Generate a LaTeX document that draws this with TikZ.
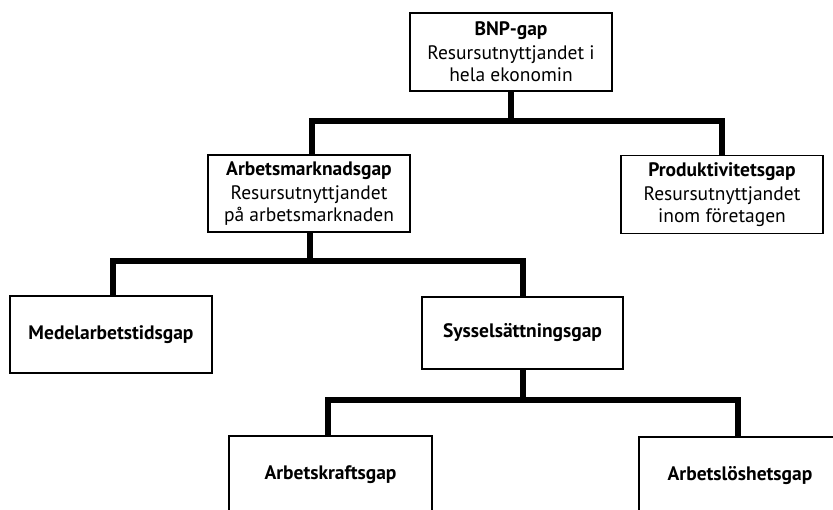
\documentclass[tikz,border=0pt]{standalone}
\usepackage{fontspec}
\setmainfont{PT Sans}
\begin{document}
\begin{tikzpicture}[x=1pt,y=-1pt,
  box/.style={draw=black, line width=1.2pt, fill=white,
    minimum width=202pt, minimum height=78pt, inner sep=0pt,
    align=center, font=\fontsize{19.5}{22}\selectfont},
  conn/.style={line width=5.5pt, line join=miter}]
\useasboundingbox (0,0) rectangle (833,510);
\clip (0,0) rectangle (833,510);

% boxes
\node[box] (bnp) at (511,52)
  {\textbf{BNP-gap}\\[2pt]Resursutnyttjandet i\\hela ekonomin};
\node[box, minimum height=77pt] (arb) at (309,193.5)
  {\textbf{Arbetsmarknadsgap}\\[2pt]Resursutnyttjandet\\på arbetsmarknaden};
\node[box] (prod) at (722,194.5)
  {\textbf{Produktivitetsgap}\\[2pt]Resursutnyttjandet\\inom företagen};
\node[box, minimum height=77pt] (medel) at (111,334.5) {\textbf{Medelarbetstidsgap}};
\node[box, minimum width=201pt, minimum height=72pt] (syss) at (522.5,333) {\textbf{Sysselsättningsgap}};
\node[box, minimum width=203pt] (kraft) at (330.5,475) {\textbf{Arbetskraftsgap}};
\node[box] (los) at (740,476) {\textbf{Arbetslöshetsgap}};

% tree connectors
\coordinate (j1) at (511,121);
\coordinate (j2) at (310,261);
\coordinate (j3) at (523,400);
\draw[conn] (bnp.south) -- (j1);
\draw[conn] ([xshift=3pt]arb.north) |- (j1) -| (prod.north);
\draw[conn] ([xshift=1pt]arb.south) -- (j2);
\draw[conn] ([xshift=2pt]medel.north) |- (j2) -| ([xshift=0.5pt]syss.north);
\draw[conn] ([xshift=0.5pt]syss.south) -- (j3);
\draw[conn] ([xshift=-2.5pt]kraft.north) |- (j3) -| ([xshift=-2pt]los.north);
\end{tikzpicture}
\end{document}
